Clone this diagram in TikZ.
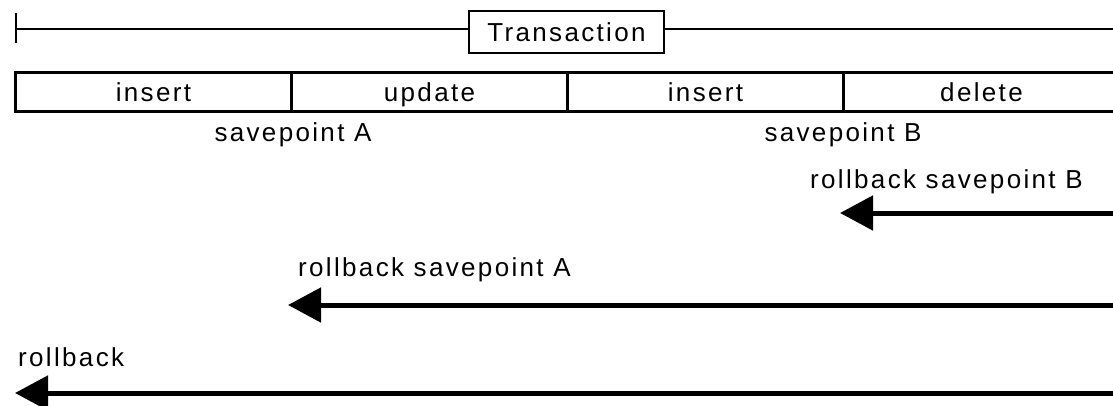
\documentclass[tikz,border=0pt]{standalone}
\usepackage{fontspec}
\setmainfont[LetterSpace=9]{Liberation Sans}
\usetikzlibrary{arrows.meta}
\begin{document}
\begin{tikzpicture}[x=1pt,y=-1pt,
  font=\fontsize{26}{30}\selectfont,
  cell/.style={draw=black, line width=3pt, minimum width=276pt, minimum height=39pt, anchor=north west, inner sep=0pt, text depth=0pt},
  titlebox/.style={draw=black, line width=2pt, minimum width=195pt, minimum height=42pt, inner sep=0pt, fill=white},
  lbl/.style={inner sep=0pt, anchor=west},
  thinline/.style={line width=1.5pt},
  bigarrow/.style={line width=5pt, -{Triangle[length=33pt,width=34pt]}}]
\useasboundingbox (0,0) rectangle (1113,406);
% top line with tick
\coordinate (tickTop) at (16,13);
\coordinate (tickBot) at (16,43);
\coordinate (lineL) at (16,29);
\coordinate (lineR) at (1125,29);
\draw[thinline] (tickTop) -- (tickBot);
\draw[thinline] (lineL) -- (lineR);
\node[titlebox] (tx) at (566.5,32) {Transaction};
% cells
\node[cell] (c1) at (14,71) {insert};
\node[cell] (c2) at (290,71) {update};
\node[cell] (c3) at (566,71) {insert};
\node[cell] (c4) at (842,71) {delete};
% savepoint labels
\node[inner sep=0pt] (spA) at (293,135) {savepoint A};
\node[inner sep=0pt] (spB) at (843,135) {savepoint B};
% rollback labels
\node[lbl] (rbB) at (810,182) {rollback savepoint B};
\node[lbl] (rbA) at (298,270) {rollback savepoint A};
\node[lbl] (rb) at (18,357) {rollback};
% arrow endpoints
\coordinate (sB) at (1125,213);
\coordinate (eB) at (840,213);
\coordinate (sA) at (1125,305);
\coordinate (eA) at (288,305);
\coordinate (s0) at (1125,393);
\coordinate (e0) at (15,393);
\draw[bigarrow] (sB) -- (eB);
\draw[bigarrow] (sA) -- (eA);
\draw[bigarrow] (s0) -- (e0);
\end{tikzpicture}
\end{document}
